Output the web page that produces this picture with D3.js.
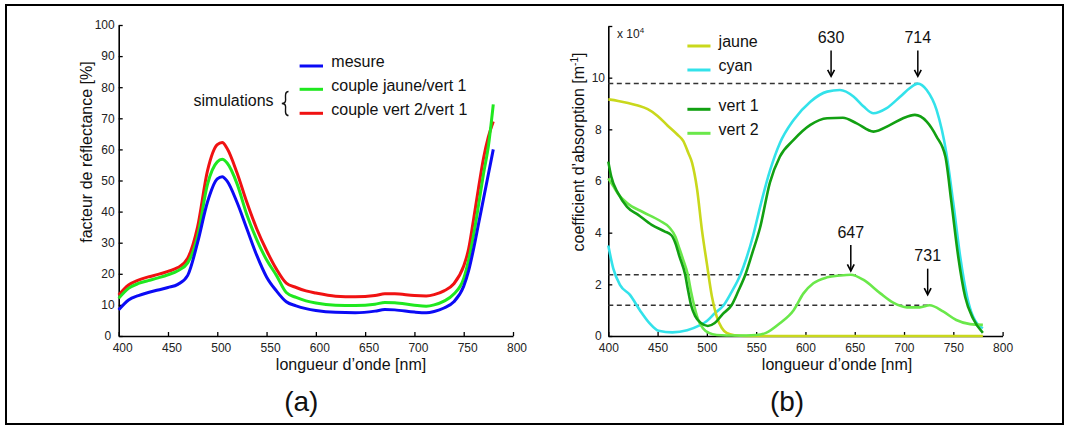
<!DOCTYPE html>
<html><head><meta charset="utf-8">
<script src="https://cdn.jsdelivr.net/npm/d3@7"></script>
<style>
body{margin:0;background:#fff}
svg{display:block}
text{font-family:"Liberation Sans",Arial,Helvetica,sans-serif}
</style></head>
<body><svg id="c" width="1069" height="429"></svg>
<script>
// ---------- Panel (a) data : reflectance [%] ----------
const wlA = [400,410,420,430,440,450,460,470,480,490,500,505,510,520,530,540,550,560,570,580,590,600,620,640,660,670,680,700,712,720,730,740,750,755,760,765,770,775,780];
const mesure = [8.4,11.6,13.0,14.0,14.8,15.6,16.6,19.5,30,43,50.5,51.2,49.8,43,34.5,26,19,14.5,11,9.7,8.8,8.2,7.6,7.5,8.0,8.5,8.4,7.7,7.5,7.9,9.0,11,16,21,28,36,44,52,60];
const coupleJauneVert1 = [12.1,15.3,16.9,17.8,18.7,19.7,21.0,23.5,32,48.7,56,56.8,55.6,49,39,31,24.5,19.5,14,12.4,11.3,10.6,9.9,9.8,10.2,10.8,10.7,9.9,9.6,10.0,11.2,13.5,18.5,24.5,32.5,42,52,61,74.5];
const coupleVert2Vert1 = [13.2,16.4,18,19,19.8,20.8,22,25,35,53,61.5,62.2,60.3,52.5,43,34.5,27.5,21.5,17,15.6,14.5,13.8,12.8,12.6,13.0,13.6,13.6,13.0,12.9,13.3,14.5,16.8,22.5,28,37.5,47.5,57,64,69];
const xTicks = [400,450,500,550,600,650,700,750,800];
const yTicksA = [0,10,20,30,40,50,60,70,80,90,100];
const legendA = ["mesure","couple jaune/vert 1","couple vert 2/vert 1"];

// ---------- Panel (b) data : absorption coefficient [x 1e4 m^-1] ----------
const wlJaune = [400,410,420,430,440,450,460,470,476,481,485,490,495,500,505,510,515,520,528,540,780];
const jaune   = [9.16,9.1,9.02,8.92,8.78,8.52,8.15,7.8,7.55,7.1,6.7,5.7,4.1,2.8,1.55,0.75,0.32,0.12,0.03,0.0,0.0];
const wlCyan = [400,405,412,422,432,442,451,465,480,492,500,508,517,525,534,540,547,554,564,574,588,605,622,635,649,659,669,682,696,706,714,723,733,743,750,757,764,770,780];
const cyan   = [3.5,2.62,1.97,1.59,1.0,0.49,0.2,0.14,0.22,0.4,0.58,0.88,1.19,1.7,2.37,3.0,3.9,5.0,6.4,7.46,8.36,9.07,9.46,9.52,9.26,8.88,8.62,8.81,9.26,9.6,9.77,9.52,8.75,7.07,5.14,3.07,1.52,0.75,0.3];
const wlVert1 = [400,403,410,419,430,444,457,464,468,472,478,481,484,488,494,501,508,516,525,532,539,546,554,564,574,588,605,622,638,652,669,686,699,711,723,733,742,748,755,762,770,780];
const vert1   = [6.75,6.17,5.52,5.0,4.7,4.3,4.05,3.9,3.6,3.1,2.37,1.75,1.19,0.78,0.5,0.39,0.5,0.85,1.19,1.75,2.37,3.2,4.2,5.95,6.94,7.59,8.17,8.43,8.45,8.23,7.91,8.17,8.43,8.56,8.3,7.72,6.94,5.2,3.07,1.52,0.68,0.12];
const wlVert2 = [400,405,410,419,435,452,462,468,472,476,480.7,484,487,491,496,502,510,530,550,560,574,588,598,608,622,635,646,659,676,689,703,716,726,740,753,767,780];
const vert2   = [6.1,5.8,5.5,5.15,4.8,4.47,4.2,3.85,3.4,2.95,2.37,1.7,1.19,0.65,0.3,0.12,0.04,0.02,0.04,0.12,0.49,1.0,1.65,2.04,2.27,2.34,2.37,2.17,1.65,1.29,1.11,1.11,1.19,0.94,0.62,0.46,0.43];
const yTicksB = [0,2,4,6,8,10,12];
const legendB = ["jaune","cyan","vert 1","vert 2"];
const dashLevels = [9.77,2.37,1.19];
const dashEnds   = [714,651,726];
const peakLabels = ["630","714","647","731"];
const peakNm     = [626,714,646,724];
const arrowTip   = [10.05,10.05,2.52,1.6];

// ---------- drawing ----------
const svg = d3.select("#c");
svg.append("rect").attr("width",1069).attr("height",429).attr("fill","#fff");
svg.append("rect").attr("x",6).attr("y",5).attr("width",1057).attr("height",419)
  .attr("fill","none").attr("stroke","#000").attr("stroke-width",2);

function styleAxis(g, fs){
  g.attr("font-family",null).attr("font-size",null);
  g.select(".domain").attr("stroke","#000").attr("stroke-width",1.6);
  g.selectAll(".tick line").attr("stroke","#000").attr("stroke-width",1.3);
  g.selectAll(".tick text").attr("fill","#222").attr("font-size",fs);
}

// ===== Panel (a) =====
const xA = d3.scaleLinear().domain([400,800]).range([118.7,513]);
const yA = d3.scaleLinear().domain([0,100]).range([336,25]);
const axA = svg.append("g").attr("transform","translate(0,336)")
  .call(d3.axisBottom(xA).tickValues(xTicks).tickSize(-4).tickSizeOuter(0).tickPadding(7));
styleAxis(axA,12);
axA.selectAll(".tick text").attr("dx",3.5);
const ayA = svg.append("g").attr("transform","translate(118.7,0)")
  .call(d3.axisLeft(yA).tickValues(yTicksA).tickSize(-4).tickSizeOuter(0).tickPadding(4));
styleAxis(ayA,12);
ayA.selectAll(".tick text").filter(d=>d===0).attr("x",-7.5);

const colorsA = ["#0b0bf5","#1fe81f","#f01212"];
const seriesA = [mesure, coupleJauneVert1, coupleVert2Vert1];
const lineA = d3.line().x((d,i)=>xA(wlA[i])).y(d=>yA(d)).curve(d3.curveMonotoneX);
[2,1,0].forEach(k=>{
  svg.append("path").datum(seriesA[k]).attr("d",lineA).attr("fill","none")
    .attr("stroke",colorsA[k]).attr("stroke-width",3).attr("stroke-linejoin","round");
});

svg.append("text").attr("x",351).attr("y",369.5).attr("text-anchor","middle")
  .attr("font-size",16).attr("fill","#111").text("longueur d’onde [nm]");
svg.append("text").attr("transform","translate(91.5,152) rotate(-90)").attr("text-anchor","middle")
  .attr("font-size",16).attr("fill","#111").text("facteur de réflectance [%]");

const legAy = [66,89.3,113.3];
legendA.forEach((t,i)=>{
  svg.append("line").attr("x1",299.6).attr("x2",323).attr("y1",legAy[i]).attr("y2",legAy[i])
    .attr("stroke",colorsA[i]).attr("stroke-width",3);
  svg.append("text").attr("x",331.3).attr("y",legAy[i]+1.2).attr("font-size",16).attr("fill","#111").text(t);
});
svg.append("text").attr("x",193.5).attr("y",106).attr("font-size",16).attr("fill","#111").text("simulations");
svg.append("path").attr("d","M288.5,91.5 C284.5,91.5 285.6,97 285.6,100 C285.6,102.3 284.3,103.5 281.8,103.5 C284.3,103.5 285.6,104.7 285.6,107 C285.6,110 284.5,115.5 288.5,115.5")
  .attr("fill","none").attr("stroke","#111").attr("stroke-width",1.4);

svg.append("text").attr("x",301.3).attr("y",411).attr("text-anchor","middle")
  .attr("font-family","'Latin Modern Roman','Liberation Serif','DejaVu Serif',serif").attr("font-size",28).attr("fill","#111").text("(a)");

// ===== Panel (b) =====
const xB = d3.scaleLinear().domain([400,800]).range([608.3,1002.6]);
const yB = d3.scaleLinear().domain([0,12]).range([336,26]);
const axB = svg.append("g").attr("transform","translate(0,336)")
  .call(d3.axisBottom(xB).tickValues(xTicks).tickSize(-4).tickSizeOuter(0).tickPadding(7.5));
styleAxis(axB,12);
const ayB = svg.append("g").attr("transform","translate(608.3,0)")
  .call(d3.axisLeft(yB).tickValues(yTicksB).tickFormat(d=>d===12?"":d).tickSize(-4).tickSizeOuter(0).tickPadding(4));
styleAxis(ayB,12);
ayB.selectAll(".tick text").attr("text-anchor","middle").attr("x",-10);

// dashed reference lines
dashLevels.forEach((v,i)=>{
  svg.append("line").attr("x1",xB(400)).attr("x2",xB(dashEnds[i])).attr("y1",yB(v)).attr("y2",yB(v))
    .attr("stroke","#333").attr("stroke-width",1.5).attr("stroke-dasharray","5,3.5");
});

const colorsB = ["#c9d81c","#33e2ea","#12a012","#6ae84a"];
const wlsB = [wlJaune, wlCyan, wlVert1, wlVert2];
const seriesB = [jaune, cyan, vert1, vert2];
[1,0,3,2].forEach(k=>{
  const ln = d3.line().x((d,i)=>xB(wlsB[k][i])).y(d=>yB(d)).curve(d3.curveMonotoneX);
  svg.append("path").datum(seriesB[k]).attr("d",ln).attr("fill","none")
    .attr("stroke",colorsB[k]).attr("stroke-width",2.6).attr("stroke-linejoin","round");
});

// arrows + peak labels
peakLabels.forEach((t,i)=>{
  const x = xB(peakNm[i]), tip = yB(arrowTip[i]), top = tip-26;
  svg.append("line").attr("x1",x).attr("x2",x).attr("y1",top).attr("y2",tip-1)
    .attr("stroke","#000").attr("stroke-width",1.5);
  svg.append("path").attr("d",`M${x-3.4},${tip-6.5} L${x},${tip} L${x+3.4},${tip-6.5}`)
    .attr("fill","none").attr("stroke","#000").attr("stroke-width",1.6);
  svg.append("text").attr("x",x).attr("y",top-7.3).attr("text-anchor","middle")
    .attr("font-size",16).attr("fill","#111").text(t);
});

// legend b
const legBy = [46,70,109.3,133.3];
legendB.forEach((t,i)=>{
  svg.append("line").attr("x1",687.4).attr("x2",710.5).attr("y1",legBy[i]).attr("y2",legBy[i])
    .attr("stroke",colorsB[i]).attr("stroke-width",3);
  svg.append("text").attr("x",718.6).attr("y",legBy[i]+1.4).attr("font-size",16).attr("fill","#111").text(t);
});

// x 10^4
const mult = svg.append("text").attr("x",617).attr("y",37.7).attr("font-size",12).attr("fill","#222");
mult.append("tspan").text("x 10");
mult.append("tspan").attr("font-size",8).attr("dy",-5).text("4");

svg.append("text").attr("x",837).attr("y",369.5).attr("text-anchor","middle")
  .attr("font-size",16).attr("fill","#111").text("longueur d’onde [nm]");
const yt = svg.append("text").attr("transform","translate(584,152) rotate(-90)").attr("text-anchor","middle")
  .attr("font-size",16).attr("fill","#111");
yt.append("tspan").text("coefficient d’absorption [m");
yt.append("tspan").attr("font-size",10).attr("dy",-6).text("-1");
yt.append("tspan").attr("dy",6).text("]");

svg.append("text").attr("x",787).attr("y",411).attr("text-anchor","middle")
  .attr("font-family","'Latin Modern Roman','Liberation Serif','DejaVu Serif',serif").attr("font-size",28).attr("fill","#111").text("(b)");
</script></body></html>
